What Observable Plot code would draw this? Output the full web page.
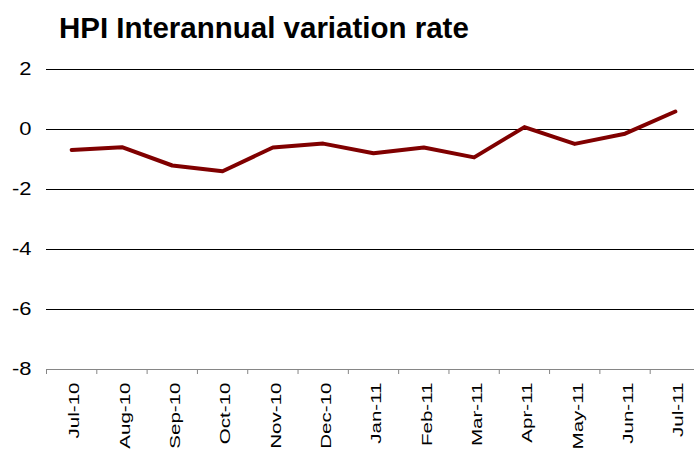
<!DOCTYPE html>
<html>
<head>
<meta charset="utf-8">
<script src="https://cdn.jsdelivr.net/npm/d3@7"></script>
<script src="https://cdn.jsdelivr.net/npm/@observablehq/plot@0.6"></script>
<style>
  html, body { margin: 0; padding: 0; background: #fff; }
  #wrap { position: relative; width: 694px; height: 453px; overflow: hidden; font-family: "Liberation Sans", Arial, sans-serif; }
  #title { position: absolute; left: 59px; top: 13px; font-size: 29.5px; line-height: 29px; font-weight: bold; color: #000; white-space: nowrap; z-index: 2; }
</style>
</head>
<body>
<div id="wrap">
  <div id="title">HPI Interannual variation rate</div>
  <div id="chart"></div>
</div>
<script>
const months = ["Jul-10","Aug-10","Sep-10","Oct-10","Nov-10","Dec-10","Jan-11","Feb-11","Mar-11","Apr-11","May-11","Jun-11","Jul-11"];
const hpiRate = [-0.68, -0.59, -1.2, -1.39, -0.6, -0.47, -0.79, -0.6, -0.93, 0.08, -0.48, -0.14, 0.6];
const yTicks = [2, 0, -2, -4, -6, -8];
const gridValues = [2, 0, -2, -4, -6];

const data = months.map((m, i) => ({i, month: m, value: hpiRate[i]}));
const idx = months.map((m, i) => i);
const bounds = months.map((m, i) => i - 0.5).concat([months.length - 0.5]);

const chart = Plot.plot({
  width: 694,
  height: 453,
  marginTop: 69,
  marginBottom: 84,
  marginLeft: 46,
  marginRight: -6,
  style: {fontFamily: "'Liberation Sans', Arial, sans-serif", fontSize: "17px", color: "#000", background: "transparent", overflow: "visible"},
  x: {type: "linear", domain: [-0.5, months.length - 0.5]},
  y: {domain: [-8, 2]},
  marks: [
    Plot.ruleY(gridValues, {stroke: "#000", strokeWidth: 1}),
    Plot.ruleY([-8], {stroke: "#868686", strokeWidth: 1}),
    Plot.axisY({ticks: yTicks, tickSize: 0, tickPadding: 15, fontSize: 18, label: null, tickFormat: d => d}),
    Plot.axisX({ticks: bounds, tickSize: 5, tickFormat: () => "", stroke: "#868686", label: null}),
    Plot.axisX({ticks: idx, tickSize: 0, tickPadding: 13, tickRotate: -90, tickFormat: i => months[i], fontSize: 15, label: null}),
    Plot.line(data, {x: "i", y: "value", stroke: "#800000", strokeWidth: 4, strokeLinejoin: "round"})
  ]
});
document.getElementById("chart").appendChild(chart);

// widen the tick label glyphs along the reading direction, as in the reference
function stretch(selector, sx, extra) {
  chart.querySelectorAll(selector).forEach(t => {
    const tr = t.getAttribute("transform") || "";
    t.setAttribute("transform", `${tr} ${extra} scale(${sx},1)`);
  });
}
stretch('g[aria-label="y-axis tick label"] text', 1.22, "");
stretch('g[aria-label="x-axis tick label"] text', 1.37, "translate(0,3)");
</script>
</body>
</html>
